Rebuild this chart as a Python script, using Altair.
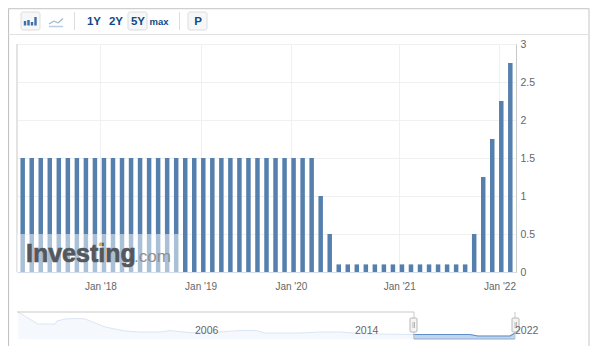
import altair as alt
import pandas as pd

# ---- chart values ----
rates = [1.5] * 33 + [1.0, 0.5] + [0.1] * 15 + [0.5, 1.25, 1.75, 2.25, 2.75]
tick_positions = [8.6, 19.7, 29.7, 41.7, 52.8]
tick_labels = ["Jan '18", "Jan '19", "Jan '20", "Jan '21", "Jan '22"]
y_ticks = [0, 0.5, 1, 1.5, 2, 2.5, 3]
nav_years = [1997.3, 1998.3, 1999.15, 1999.25, 1999.65, 2000.15, 2000.65, 2001.65, 2002.65, 2003.4,
             2004.4, 2004.9, 2005.9, 2007.15, 2008.4, 2009.2, 2009.65, 2011.4, 2012.4, 2013.4,
             2014.9, 2017.05, 2019.9, 2020.3, 2021.9, 2022.15]
nav_values = [21.5, 10.8, 10.8, 13.5, 15.3, 15.7, 15.3, 8.2, 4.6, 3.7,
              3.7, 5.0, 3.1, 3.5, 5.05, 5.05, 2.83, 2.83, 3.7, 3.7,
              1.95, 1.5, 1.5, 0.17, 0.17, 2.75]
nav_ticks = [2006, 2014, 2022]
toolbar_labels = ["1Y", "2Y", "5Y", "P"]
toolbar_x = [94, 116, 138, 198]

# ---- layout in page pixels ----
PL, PT, PR, PB = 17, 44, 516, 272
W, H = PR - PL, PB - PT
GRID = "#f0f0f0"
TEXT = "#666666"
NAVY = "#0f4a87"
FONT = "Liberation Sans"
BAR = "#5580ae"

def X(px):
    return alt.value(px - PL)

def Y(py):
    return alt.value(py - PT)

def line(x1, y1, x2, y2, color="#cccccc", w=1.0):
    return alt.Chart().mark_rule(color=color, strokeWidth=w).encode(x=X(x1), x2=X(x2), y=Y(y1), y2=Y(y2))

def box(x1, y1, x2, y2, fill="#f6f7f9", stroke="#dddddd", opacity=1.0, r=2):
    kw = {"stroke": stroke, "strokeWidth": 1} if stroke else {}
    return alt.Chart().mark_rect(fill=fill, opacity=opacity, cornerRadius=r, **kw).encode(
        x=X(x1), x2=X(x2), y=Y(y1), y2=Y(y2))

def label(txt, x, y, size=11.5, color=NAVY, weight="bold", align="center", baseline="middle", **kw):
    return alt.Chart().mark_text(text=txt, font=FONT, fontSize=size, color=color, fontWeight=weight,
                                 align=align, baseline=baseline, **kw).encode(x=X(x), y=Y(y))

df = pd.DataFrame({"i": list(range(len(rates))), "rate": rates})

x_scale = alt.Scale(domain=[-0.63, 54.63], range=[0, W], nice=False, zero=False, padding=0)
y_scale = alt.Scale(domain=[0, 3], range=[H, 0], nice=False)

tick_map = ",".join('"%s":"%s"' % (p, l) for p, l in zip(tick_positions, tick_labels))
bars = alt.Chart(df).mark_bar(size=4.5, color=BAR, clip=False).encode(
    x=alt.X("i:Q", scale=x_scale, title=None, axis=alt.Axis(
        values=tick_positions, labelExpr="({%s})[datum.value]" % tick_map, grid=True, gridColor=GRID,
        ticks=False, domainColor="#d3dcec", labelColor=TEXT, labelFont=FONT, labelFontSize=10,
        labelPadding=9, labelFlush=False, labelOverlap=False, orient="bottom")),
    y=alt.Y("rate:Q", scale=y_scale, title=None, axis=alt.Axis(
        values=y_ticks, format="~g", grid=True, gridColor=GRID, ticks=False, domainColor="#c8c8c8",
        labelColor=TEXT, labelFont=FONT, labelFontSize=10.5, labelPadding=4, orient="right",
        labelFlush=False, labelOverlap=False)),
)

# navigator
nav = pd.DataFrame({"year": nav_years, "v": nav_values})
nav_x = alt.Scale(domain=[1997.25, 2022.2], range=[0, W], nice=False, zero=False)
nav_y = alt.Scale(domain=[-2.5, 21.5], range=[339 - PT, 312 - PT], nice=False, zero=False)

def nav_enc(ch):
    return ch.encode(
        x=alt.X("year:Q", scale=nav_x, axis=None),
        y=alt.Y("v:Q", scale=nav_y, axis=None),
        y2=alt.Y2(datum=-2.5),
    )

nav_area = nav_enc(alt.Chart(nav).mark_area(color="#f1f6fc", line={"color": "#dbe6f4", "strokeWidth": 1}))
nav_sel = nav_enc(alt.Chart(nav).transform_filter("datum.year >= 2017.05").mark_area(
    color="#a9c4e6", line={"color": "#5f8fc8", "strokeWidth": 1.2}))
nav_labels = alt.Chart(pd.DataFrame({"year": nav_ticks})).mark_text(
    font=FONT, fontSize=10.5, color=TEXT, align="left", dx=3, baseline="middle").encode(
    x=alt.X("year:Q", scale=nav_x, axis=None),
    y=Y(331),
    text=alt.Text("year:Q", format="d"),
)

layers = [
    # outer frame and toolbar
    line(8.5, 8.5, 589, 8.5, "#cfcfcf", 1.5),
    line(8.5, 8.5, 8.5, 346.5, "#c4c4c4", 1.2),
    line(589, 8.5, 589, 346.5, "#cfcfcf", 1.2),
    line(8.5, 346.5, 589, 346.5, "#cfcfcf", 1.2),
    line(8.5, 34.5, 589, 34.5, "#e2e2e2", 1),
    line(17, 44, 17, 272, "#c8c8c8", 1),
    bars,
    box(17, 234, 180, 272, fill="#ffffff", stroke=None, opacity=0.5, r=0),
    label("Investing", 26, 261.7, size=25, color="#54575c", align="left", baseline="alphabetic",
          stroke="#54575c", strokeWidth=0.7),
    label(".com", 134, 261.7, size=17, color="#8d8f92", weight="normal", align="left", baseline="alphabetic"),
    alt.Chart().mark_point(filled=True, color="#f0b04a", size=14, opacity=0.9).encode(x=X(100.5), y=Y(244.5)),
    # toolbar buttons
    box(21, 12, 40, 30),
    box(128, 12, 147, 30),
    box(188, 12, 207, 30),
    line(74.5, 12, 74.5, 30, "#dddddd", 1),
    line(179.5, 12, 179.5, 30, "#dddddd", 1),
]
for bx, by in zip([25, 28.5, 32, 35.5], [21, 20, 22, 17]):
    layers.append(line(bx, by, bx, 25.5, "#3e6fa8", 2.4))
layers += [
    line(49, 26.5, 63, 26.5, "#b8cce2", 1.5),
    line(49, 24, 54, 21, "#9fb7d2", 1.2),
    line(54, 21, 58, 23, "#9fb7d2", 1.2),
    line(58, 23, 63, 18.5, "#9fb7d2", 1.2),
]
for t, tx in zip(toolbar_labels, toolbar_x):
    layers.append(label(t, tx, 22))
layers.append(label("max", 159, 22, size=9.5))
# navigator
layers += [
    nav_area,
    nav_sel,
    line(17, 312, 414, 312, "#c9c9c9", 1.2),
    line(414, 312, 414, 339, "#c9c9c9", 1),
    line(515, 312, 515, 339, "#c9c9c9", 1),
    line(414, 339, 515, 339, "#8eaed6", 1),
    box(410, 318, 417, 332, fill="#f4f4f4", stroke="#b8b8b8", r=1),
    box(512, 318, 519, 332, fill="#f4f4f4", stroke="#b8b8b8", r=1),
    line(413, 322, 413, 328, "#b8b8b8", 1),
    line(414.5, 322, 414.5, 328, "#b8b8b8", 1),
    line(515, 322, 515, 328, "#b8b8b8", 1),
    line(516.5, 322, 516.5, 328, "#b8b8b8", 1),
    nav_labels,
]

chart = alt.layer(*layers).resolve_scale(x="independent", y="independent").properties(
    width=W, height=H,
    padding={"left": PL - 8, "top": PT - 8, "right": 592 - PR, "bottom": 346 - PB},
    autosize=alt.AutoSizeParams(type="none"),
    background="#ffffff",
).configure_view(stroke=None)

chart.save("out.html", embed_options={"renderer": "svg", "actions": False})
